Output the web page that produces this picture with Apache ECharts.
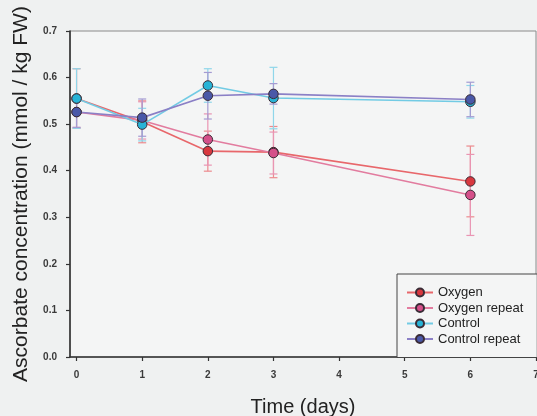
<!DOCTYPE html>
<html>
<head>
<meta charset="utf-8">
<script src="https://cdn.jsdelivr.net/npm/echarts@6/dist/echarts.min.js"></script>
<style>
html,body{margin:0;padding:0;background:#eff1f1;}
#chart{width:537px;height:416px;}
</style>
</head>
<body>
<div id="chart"></div>
<script>
const days = [0, 1, 2, 3, 6];
const xTicks = [0, 1, 2, 3, 4, 5, 6, 7];
const seriesNames = ['Oxygen', 'Oxygen repeat', 'Control', 'Control repeat'];
const oxygen = [0.555, 0.505, 0.442, 0.440, 0.377];
const oxygenErr = [0.064, 0.045, 0.043, 0.055, 0.076];
const oxygenRepeat = [0.526, 0.508, 0.467, 0.438, 0.348];
const oxygenRepeatErr = [0.033, 0.040, 0.055, 0.045, 0.087];
const control = [0.555, 0.499, 0.583, 0.556, 0.548];
const controlErr = [0.064, 0.035, 0.036, 0.066, 0.035];
const controlRepeat = [0.526, 0.514, 0.561, 0.565, 0.553];
const controlRepeatErr = [0.033, 0.040, 0.050, 0.022, 0.037];

const values = [oxygen, oxygenRepeat, control, controlRepeat];
const errors = [oxygenErr, oxygenRepeatErr, controlErr, controlRepeatErr];
const markerColors = ['#d8383f', '#d5508a', '#27b3d6', '#4a58a8'];
const lineColors = ['#e8676b', '#e27c9f', '#72cbe4', '#8b80c6'];
const errColors = ['#ec8a8e', '#e995b3', '#8fd6ea', '#a49bd2'];

const font = '"Liberation Sans", Arial, sans-serif';

const series = [];
values.forEach((vals, i) => {
  series.push({
    name: 'err' + i,
    type: 'custom',
    z: 1,
    silent: true,
    data: days.map((d, k) => [d, vals[k], vals[k] - errors[i][k], vals[k] + errors[i][k]]),
    encode: { x: 0, y: [2, 3] },
    renderItem: function (params, api) {
      const x = api.value(0);
      const lo = api.coord([x, api.value(2)]);
      const hi = api.coord([x, api.value(3)]);
      const hw = 4;
      const st = { stroke: errColors[i], lineWidth: 1.2 };
      return {
        type: 'group',
        children: [
          { type: 'line', shape: { x1: lo[0], y1: lo[1], x2: hi[0], y2: hi[1] }, style: st },
          { type: 'line', shape: { x1: lo[0] - hw, y1: lo[1], x2: lo[0] + hw, y2: lo[1] }, style: st },
          { type: 'line', shape: { x1: hi[0] - hw, y1: hi[1], x2: hi[0] + hw, y2: hi[1] }, style: st }
        ]
      };
    }
  });
});
values.forEach((vals, i) => {
  series.push({
    name: seriesNames[i],
    type: 'line',
    z: 3 + i,
    data: days.map((d, k) => [d, vals[k]]),
    symbol: 'circle',
    symbolSize: 9.5,
    lineStyle: { color: lineColors[i], width: 1.6 },
    itemStyle: { color: markerColors[i], borderColor: '#3a2c36', borderWidth: 1 },
    emphasis: { disabled: true }
  });
});

const chart = echarts.init(document.getElementById('chart'), null, { renderer: 'canvas' });
chart.setOption({
  backgroundColor: '#eff1f1',
  animation: false,
  grid: {
    left: 70, right: 1, top: 31, bottom: 59,
    outerBoundsMode: 'none', containLabel: false,
    show: true, backgroundColor: '#f4f5f5', borderColor: '#8a8a8a', borderWidth: 1
  },
  legend: {
    data: seriesNames,
    orient: 'vertical',
    left: 397, top: 274,
    padding: [12, 14, 12, 9],
    itemWidth: 26, itemHeight: 10, itemGap: 2.5, itemTextGap: 10,
    backgroundColor: '#f4f5f5',
    borderColor: '#444', borderWidth: 1,
    textStyle: { fontFamily: font, fontSize: 13, color: '#222', lineHeight: 13 }
  },
  xAxis: {
    type: 'value', min: -0.1, max: 7,
    name: 'Time (days)', nameLocation: 'middle', nameGap: 40,
    nameTextStyle: { fontFamily: font, fontSize: 20, color: '#222' },
    axisLine: { show: true, onZero: false, lineStyle: { color: '#333', width: 1.6 } },
    axisTick: { show: true, length: 4, customValues: xTicks, lineStyle: { color: '#333', width: 1.2 } },
    axisLabel: { customValues: xTicks, margin: 13, fontFamily: font, fontSize: 10, fontWeight: 'bold', color: '#3a3a3a' },
    splitLine: { show: false }
  },
  yAxis: {
    type: 'value', min: 0, max: 0.7, interval: 0.1,
    name: 'Ascorbate concentration (mmol / kg FW)', nameLocation: 'middle', nameGap: 36,
    nameTextStyle: { fontFamily: font, fontSize: 21, color: '#222' },
    axisLine: { show: true, onZero: false, lineStyle: { color: '#333', width: 1.6 } },
    axisTick: { show: true, length: 4, lineStyle: { color: '#333', width: 1.2 } },
    axisLabel: { margin: 13, fontFamily: font, fontSize: 10, fontWeight: 'bold', color: '#3a3a3a',
      formatter: v => v.toFixed(1) },
    splitLine: { show: false }
  },
  series: series
});
</script>
</body>
</html>
